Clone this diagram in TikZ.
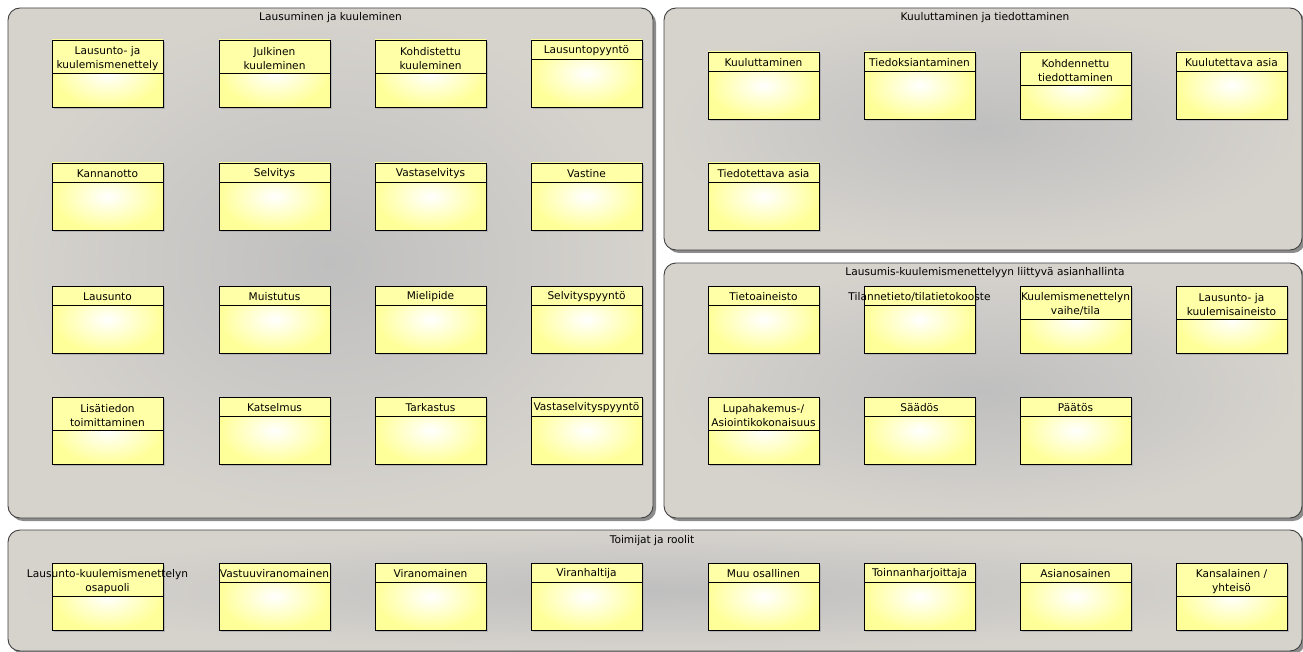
\documentclass[tikz,border=0pt]{standalone}
\usepackage{fontspec}
\setmainfont{DejaVu Sans}
\definecolor{panelout}{HTML}{D6D3CD}
\definecolor{panelin}{HTML}{BFBFBF}
\definecolor{hdrc}{HTML}{FFFFA8}
\definecolor{bodyout}{HTML}{FFFF99}
\tikzset{
  panel/.style={rounded corners=12pt, draw=black!75, line width=0.9pt, inner color=panelin, outer color=panelout},
  panelshadow/.style={rounded corners=12pt, fill=black!45},
  ptitle/.style={font=\fontsize{10.6}{12}\selectfont, inner sep=0pt, anchor=center},
  bodyshade/.style={inner color=white, outer color=bodyout},
  boxshadow/.style={fill=black!30},
  boxline/.style={draw=black, line width=0.9pt},
  hdr/.style={fill=hdrc},
  lbl/.style={font=\fontsize{10.6}{14}\selectfont, inner sep=0pt, align=center, text=black}
}
% #4 = header height; two-line headers get a slightly lower text centre
\newcommand\ubox[5]{%
  \fill[boxshadow] (#2+2,#3+2) rectangle ++(111,67);
  \path[bodyshade] (#2,#3) rectangle ++(111,67);
  \fill[hdr] (#2,#3) rectangle ++(111,#4);
  \draw[boxline] (#2,#3) rectangle ++(111,67);
  \draw[boxline] (#2,#3+#4) -- ++(111,0);
  \node[lbl] (#1) at (#2+55.5,#3+#4/2+#4/19) {#5};
}
\newcommand\upanel[5]{%
  \fill[panelshadow] (#2+3,#3+3) rectangle (#4+3,#5+3);
  \path[panel] (#2,#3) rectangle (#4,#5);
}
\begin{document}
\begin{tikzpicture}[x=1pt,y=-1pt]
\useasboundingbox[fill=white] (0,0) rectangle (1303,652);
% panels
\upanel{p1}{8}{8}{653}{518}
\node[ptitle] (t1) at (330.5,17.5) {Lausuminen ja kuuleminen};
\upanel{p2}{664}{8}{1302}{250}
\node[ptitle] (t2) at (985,17.5) {Kuuluttaminen ja tiedottaminen};
\upanel{p3}{664}{263}{1302}{518}
\node[ptitle] (t3) at (985,272.5) {Lausumis-kuulemismenettelyyn liittyvä asianhallinta};
\upanel{p4}{8}{530}{1302}{651}
\node[ptitle] (t4) at (652,540.5) {Toimijat ja roolit};
% left panel
\ubox{a1}{52}{40}{33}{Lausunto- ja\\kuulemismenettely}
\ubox{a2}{219}{40}{33}{Julkinen\\kuuleminen}
\ubox{a3}{375}{40}{33}{Kohdistettu\\kuuleminen}
\ubox{a4}{531}{40}{19}{Lausuntopyyntö}
\ubox{b1}{52}{163}{19}{Kannanotto}
\ubox{b2}{219}{163}{19}{Selvitys}
\ubox{b3}{375}{163}{19}{Vastaselvitys}
\ubox{b4}{531}{163}{19}{Vastine}
\ubox{c1}{52}{286}{19}{Lausunto}
\ubox{c2}{219}{286}{19}{Muistutus}
\ubox{c3}{375}{286}{19}{Mielipide}
\ubox{c4}{531}{286}{19}{Selvityspyyntö}
\ubox{d1}{52}{397}{33}{Lisätiedon\\toimittaminen}
\ubox{d2}{219}{397}{19}{Katselmus}
\ubox{d3}{375}{397}{19}{Tarkastus}
\ubox{d4}{531}{397}{19}{Vastaselvityspyyntö}
% right top
\ubox{e1}{708}{52}{19}{Kuuluttaminen}
\ubox{e2}{864}{52}{19}{Tiedoksiantaminen}
\ubox{e3}{1020}{52}{33}{Kohdennettu\\tiedottaminen}
\ubox{e4}{1176}{52}{19}{Kuulutettava asia}
\ubox{f1}{708}{163}{19}{Tiedotettava asia}
% right middle
\ubox{g1}{708}{286}{19}{Tietoaineisto}
\ubox{g2}{864}{286}{19}{Tilannetieto/tilatietokooste}
\ubox{g3}{1020}{286}{33}{Kuulemismenettelyn\\vaihe/tila}
\ubox{g4}{1176}{286}{33}{Lausunto- ja\\kuulemisaineisto}
\ubox{h1}{708}{397}{33}{Lupahakemus-/\\Asiointikokonaisuus}
\ubox{h2}{864}{397}{19}{Säädös}
\ubox{h3}{1020}{397}{19}{Päätös}
% bottom
\ubox{k1}{52}{563}{33}{Lausunto-kuulemismenettelyn\\osapuoli}
\ubox{k2}{219}{563}{19}{Vastuuviranomainen}
\ubox{k3}{375}{563}{19}{Viranomainen}
\ubox{k4}{531}{563}{19}{Viranhaltija}
\ubox{k5}{708}{563}{19}{Muu osallinen}
\ubox{k6}{864}{563}{19}{Toinnanharjoittaja}
\ubox{k7}{1020}{563}{19}{Asianosainen}
\ubox{k8}{1176}{563}{33}{Kansalainen /\\yhteisö}
\end{tikzpicture}
\end{document}
